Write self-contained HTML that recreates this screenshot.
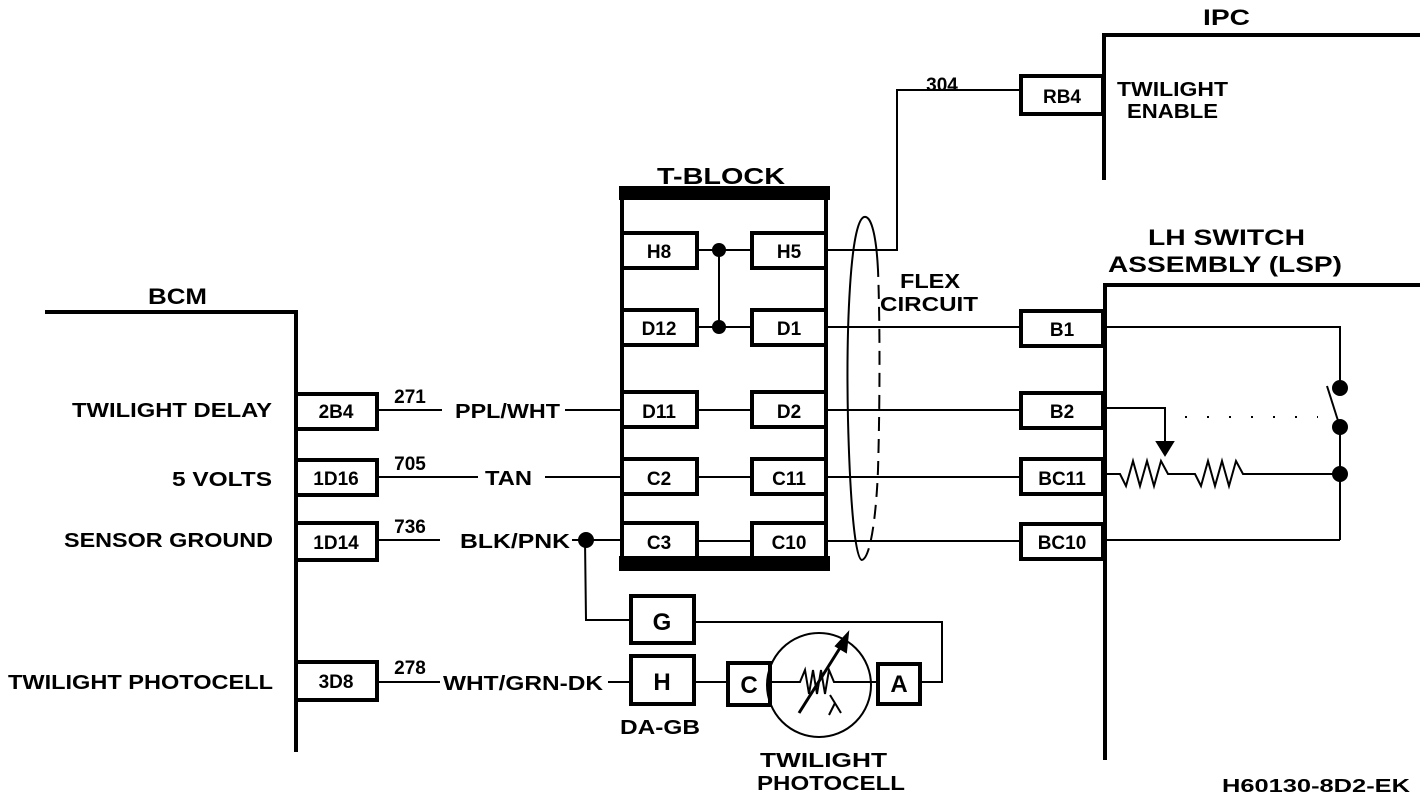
<!DOCTYPE html>
<html><head><meta charset="utf-8"><style>
html,body{margin:0;padding:0;background:#fff}
svg{display:block}
text{font-family:"Liberation Sans",Arial,sans-serif;font-weight:bold;fill:#000}
</style></head><body>
<svg width="1424" height="800" viewBox="0 0 1424 800" xmlns="http://www.w3.org/2000/svg">
<g stroke="#000" fill="none" stroke-width="2">
<line x1="45" y1="312" x2="296" y2="312" stroke-width="4"/>
<line x1="296" y1="310" x2="296" y2="752" stroke-width="4"/>
<g stroke-width="4" fill="#fff">
<rect x="296" y="394" width="81" height="35"/>
<rect x="296" y="460" width="81" height="35"/>
<rect x="296" y="523" width="81" height="37"/>
<rect x="296" y="662" width="81" height="38"/>
</g>
<line x1="377" y1="410" x2="442" y2="410"/>
<line x1="565" y1="410" x2="622" y2="410"/>
<line x1="377" y1="477" x2="478" y2="477"/>
<line x1="545" y1="477" x2="622" y2="477"/>
<line x1="377" y1="540" x2="440" y2="540"/>
<line x1="572" y1="540" x2="622" y2="540"/>
<line x1="377" y1="682" x2="440" y2="682"/>
<line x1="608" y1="682" x2="630" y2="682"/>
<rect x="622" y="190" width="204" height="378" stroke-width="4"/>
<rect x="620" y="187" width="209" height="12" fill="#000"/>
<rect x="620" y="557" width="209" height="13" fill="#000"/>
<g stroke-width="4" fill="#fff">
<rect x="622" y="233" width="75" height="35"/><rect x="752" y="233" width="74" height="35"/>
<rect x="622" y="310" width="75" height="35"/><rect x="752" y="310" width="74" height="35"/>
<rect x="622" y="392" width="75" height="35"/><rect x="752" y="392" width="74" height="35"/>
<rect x="622" y="459" width="75" height="35"/><rect x="752" y="459" width="74" height="35"/>
<rect x="622" y="523" width="75" height="35"/><rect x="752" y="523" width="74" height="35"/>
</g>
<line x1="697" y1="250" x2="752" y2="250"/>
<line x1="697" y1="327" x2="752" y2="327"/>
<line x1="719" y1="250" x2="719" y2="327"/>
<line x1="697" y1="410" x2="752" y2="410"/>
<line x1="697" y1="477" x2="752" y2="477"/>
<line x1="697" y1="541" x2="752" y2="541"/>
<path d="M878,270 C876,230 870,215 864,217 C850,222 846,330 848,420 C850,500 855,560 862,560"/>
<path d="M862,560 C870,558 876,520 878,470 C880,400 880,320 878,270" stroke-dasharray="14,8"/>
<polyline points="826,250 897,250 897,90 1020,90"/>
<line x1="826" y1="327" x2="1020" y2="327"/>
<line x1="826" y1="410" x2="1020" y2="410"/>
<line x1="826" y1="477" x2="1020" y2="477"/>
<line x1="826" y1="541" x2="1020" y2="541"/>
<line x1="1103" y1="35" x2="1420" y2="35" stroke-width="4"/>
<line x1="1104" y1="33" x2="1104" y2="180" stroke-width="4"/>
<rect x="1021" y="76" width="82" height="38" stroke-width="4" fill="#fff"/>
<line x1="1103" y1="285" x2="1420" y2="285" stroke-width="4"/>
<line x1="1105" y1="283" x2="1105" y2="760" stroke-width="4"/>
<g stroke-width="4" fill="#fff">
<rect x="1021" y="311" width="82" height="35"/>
<rect x="1021" y="393" width="82" height="35"/>
<rect x="1021" y="459" width="82" height="35"/>
<rect x="1021" y="524" width="82" height="35"/>
</g>
<polyline points="1106,327 1340,327 1340,386"/>
<line x1="1327" y1="386" x2="1340" y2="427"/>
<line x1="1340" y1="427" x2="1340" y2="540"/>
<line x1="1185" y1="417" x2="1318" y2="417" stroke-dasharray="2,20"/>
<polyline points="1106,408 1165,408 1165,448"/>
<polygon points="1157,442 1173,442 1165,455" fill="#000"/>
<polyline points="1106,474 1120,474 1126,486 1133,461 1140,486 1147,461 1154,486 1161,461 1168,474 1175,474 1195,474 1201,486 1208,461 1215,486 1222,461 1229,486 1236,461 1243,474 1340,474"/>
<line x1="1106" y1="540" x2="1340" y2="540"/>
<circle cx="1340" cy="388" r="7" fill="#000"/>
<circle cx="1340" cy="427" r="7" fill="#000"/>
<circle cx="1340" cy="474" r="7" fill="#000"/>
<polyline points="585,540 586,620 630,620"/>
<rect x="631" y="596" width="63" height="47" stroke-width="4" fill="#fff"/>
<rect x="631" y="656" width="63" height="48" stroke-width="4" fill="#fff"/>
<line x1="694" y1="682" x2="728" y2="682"/>
<rect x="728" y="663" width="42" height="42" stroke-width="4" fill="#fff"/>
<circle cx="819" cy="685" r="52"/>
<polyline points="770,682 800,682 805,670 809,694 813,670 817,694 821,670 825,694 829,670 834,682 876,682"/>
<line x1="799" y1="713" x2="845" y2="640" stroke-width="3"/>
<polygon points="848,633 846,652 836,646" fill="#000"/>
<line x1="830" y1="695" x2="841" y2="713"/><line x1="835" y1="703" x2="829" y2="715"/>
<rect x="878" y="664" width="42" height="40" stroke-width="4" fill="#fff"/>
<polyline points="920,682 942,682 942,622 694,622"/>
</g>
<circle cx="719" cy="250" r="7"/><circle cx="719" cy="327" r="7"/>
<circle cx="586" cy="540" r="8"/>
<g font-size="20" lengthAdjust="spacingAndGlyphs">
<text x="148" y="304" font-size="22" textLength="59" lengthAdjust="spacingAndGlyphs">BCM</text>
<text x="72" y="417" textLength="200" lengthAdjust="spacingAndGlyphs">TWILIGHT DELAY</text>
<text x="172" y="486" textLength="100" lengthAdjust="spacingAndGlyphs">5 VOLTS</text>
<text x="64" y="547" textLength="209" lengthAdjust="spacingAndGlyphs">SENSOR GROUND</text>
<text x="8" y="689" textLength="265" lengthAdjust="spacingAndGlyphs">TWILIGHT PHOTOCELL</text>
<g font-size="19" text-anchor="middle">
<text x="336" y="418">2B4</text><text x="336" y="485">1D16</text><text x="336" y="549">1D14</text><text x="336" y="688">3D8</text>
<text x="410" y="403">271</text><text x="410" y="470">705</text><text x="410" y="533">736</text><text x="410" y="674">278</text>
<text x="659" y="258">H8</text><text x="789" y="258">H5</text>
<text x="659" y="335">D12</text><text x="789" y="335">D1</text>
<text x="659" y="418">D11</text><text x="789" y="418">D2</text>
<text x="659" y="485">C2</text><text x="789" y="485">C11</text>
<text x="659" y="549">C3</text><text x="789" y="549">C10</text>
<text x="1062" y="103">RB4</text>
<text x="1062" y="336">B1</text><text x="1062" y="418">B2</text><text x="1062" y="485">BC11</text><text x="1062" y="549">BC10</text>
<text x="942" y="91">304</text>
</g>
<text x="455" y="418" textLength="105" lengthAdjust="spacingAndGlyphs">PPL/WHT</text>
<text x="485" y="485" textLength="47" lengthAdjust="spacingAndGlyphs">TAN</text>
<text x="460" y="548" textLength="110" lengthAdjust="spacingAndGlyphs">BLK/PNK</text>
<text x="443" y="690" textLength="160" lengthAdjust="spacingAndGlyphs">WHT/GRN-DK</text>
<text x="657" y="184" font-size="23" textLength="128" lengthAdjust="spacingAndGlyphs">T-BLOCK</text>
<text x="900" y="288" textLength="60" lengthAdjust="spacingAndGlyphs">FLEX</text>
<text x="880" y="311" textLength="98" lengthAdjust="spacingAndGlyphs">CIRCUIT</text>
<text x="1203" y="25" font-size="22" textLength="47" lengthAdjust="spacingAndGlyphs">IPC</text>
<text x="1117" y="96" textLength="111" lengthAdjust="spacingAndGlyphs">TWILIGHT</text>
<text x="1127" y="118" textLength="91" lengthAdjust="spacingAndGlyphs">ENABLE</text>
<text x="1148" y="245" font-size="22" textLength="157" lengthAdjust="spacingAndGlyphs">LH SWITCH</text>
<text x="1108" y="272" font-size="22" textLength="234" lengthAdjust="spacingAndGlyphs">ASSEMBLY (LSP)</text>
<text x="662" y="630" font-size="24" text-anchor="middle">G</text>
<text x="662" y="690" font-size="24" text-anchor="middle">H</text>
<text x="749" y="693" font-size="24" text-anchor="middle">C</text>
<text x="899" y="692" font-size="24" text-anchor="middle">A</text>
<text x="620" y="734" textLength="80" lengthAdjust="spacingAndGlyphs">DA-GB</text>
<text x="760" y="767" textLength="127" lengthAdjust="spacingAndGlyphs">TWILIGHT</text>
<text x="757" y="790" textLength="148" lengthAdjust="spacingAndGlyphs">PHOTOCELL</text>
<text x="1222" y="792" font-size="18" textLength="188" lengthAdjust="spacingAndGlyphs">H60130-8D2-EK</text>
</g>
</svg>
</body></html>
